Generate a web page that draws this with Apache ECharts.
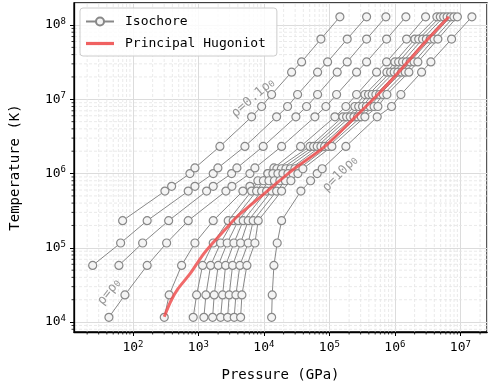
<!DOCTYPE html>
<html><head><meta charset="utf-8">
<script src="https://cdn.jsdelivr.net/npm/echarts@6/dist/echarts.min.js"></script>
<style>html,body{margin:0;padding:0;background:#fff}#c{width:489px;height:389px}</style>
</head><body><div id="c"></div>
<script>
// ---- data: pressure (GPa), temperature (K) ----
const iso_0p1 = [[69.6,2.32e5],[308,5.8e5],[390,6.73e5],[742,1.0e6],[885,1.19e6],[2129,2.32e6],[6491,5.8e6],[9224,8.0e6],[13110,1.16e7],[26480,2.32e7],[37640,3.19e7],[74180,6.47e7],[144600,1.29e8]];
const iso_0p25 = [[24.3,5.8e4],[64.9,1.16e5],[165,2.32e5],[699,5.8e5],[885,6.73e5],[1683,1.0e6],[1984,1.19e6],[5128,2.32e6],[15630,5.8e6],[23000,8.0e6],[32690,1.16e7],[66040,2.32e7],[93870,3.19e7],[187000,6.47e7],[369800,1.29e8]];
const iso_0p5 = [[61.1,5.8e4],[140.7,1.16e5],[351,2.32e5],[1334,5.8e5],[1683,6.73e5],[3213,1.0e6],[3871,1.19e6],[9757,2.32e6],[30800,5.8e6],[44860,8.0e6],[66040,1.16e7],[131600,2.32e7],[187000,3.19e7],[369800,6.47e7],[728900,1.29e8]];
const iso_1 = [[43.0,1.16e4],[75.5,2.32e4],[165,5.8e4],[327,1.16e5],[699,2.32e5],[2629,5.8e5],[3247,6.73e5],[6113,1.0e6],[7290,1.19e6],[18630,2.32e6],[60060,5.8e6],[88430,8.0e6],[128800,1.16e7],[260200,2.32e7],[369800,3.19e7],[747000,6.47e7],[1.472e6,1.29e8]];
const iso_2 = [[301,1.16e4],[358,2.32e4],[554,5.8e4],[885,1.16e5],[1683,2.32e5],[4779,5.8e5],[6113,6.73e5],[11510,1.0e6],[14210,1.19e6],[36340,2.32e6],[121300,5.8e6],[178600,8.0e6],[260200,1.16e7],[525600,2.32e7],[747000,3.19e7],[1.509e6,6.47e7],[2.943e6,1.29e8]];
const iso_c1 = [[833,1.16e4],[939,2.32e4],[1159,5.8e4],[1683,1.16e5],[2851,2.32e5],[6491,5.8e5],[8098,8.0e5],[11510,1.0e6],[15800,1.16e6],[50390,2.32e6],[160700,5.8e6],[245100,8.0e6],[348300,1.16e7],[755000,2.32e7],[1.000e6,3.19e7],[2.020e6,6.47e7],[4.377e6,1.29e8]];
const iso_c2 = [[1213,1.16e4],[1302,2.32e4],[1536,5.8e4],[2182,1.16e5],[3399,2.32e5],[7737,5.8e5],[9826,8.0e5],[13720,1.0e6],[18500,1.16e6],[57390,2.32e6],[183100,5.8e6],[280200,8.0e6],[396800,1.16e7],[859800,2.32e7],[1.143e6,3.19e7],[2.309e6,6.47e7],[4.934e6,1.29e8]];
const iso_c3 = [[1648,1.16e4],[1743,2.32e4],[2006,5.8e4],[2753,1.16e5],[4052,2.32e5],[9224,5.8e5],[11920,8.0e5],[16360,1.0e6],[21670,1.16e6],[65140,2.32e6],[207800,5.8e6],[321300,8.0e6],[450200,1.16e7],[975700,2.32e7],[1.311e6,3.19e7],[2.648e6,6.47e7],[5.559e6,1.29e8]];
const iso_c4 = [[2182,1.16e4],[2342,2.32e4],[2602,5.8e4],[3483,1.16e5],[4831,2.32e5],[11000,5.8e5],[14470,8.0e5],[19510,1.0e6],[25380,1.16e6],[74180,2.32e6],[236600,5.8e6],[367300,8.0e6],[512800,1.16e7],[1.111e6,2.32e7],[1.498e6,3.19e7],[3.026e6,6.47e7],[6.265e6,1.29e8]];
const iso_c5 = [[2792,1.16e4],[2953,2.32e4],[3328,5.8e4],[4410,1.16e5],[5759,2.32e5],[13110,5.8e5],[17550,8.0e5],[23250,1.0e6],[29730,1.16e6],[84460,2.32e6],[269500,5.8e6],[419800,8.0e6],[584000,1.16e7],[1.266e6,2.32e7],[1.712e6,3.19e7],[3.459e6,6.47e7],[7.063e6,1.29e8]];
const iso_c6 = [[3520,1.16e4],[3737,2.32e4],[4301,5.8e4],[5759,1.16e5],[6866,2.32e5],[15630,5.8e5],[21290,8.0e5],[27720,1.0e6],[34220,1.16e6],[95880,2.32e6],[305900,5.8e6],[481300,8.0e6],[662900,1.16e7],[1.437e6,2.32e7],[1.964e6,3.19e7],[3.967e6,6.47e7],[7.958e6,1.29e8]];
const iso_c7 = [[4410,1.16e4],[4615,2.32e4],[5503,5.8e4],[7290,1.16e5],[8185,2.32e5],[18630,5.8e5],[25830,8.0e5],[33050,1.0e6],[39390,1.16e6],[109200,2.32e6],[348300,5.8e6],[550300,8.0e6],[755000,1.16e7],[1.636e6,2.32e7],[2.245e6,3.19e7],[4.535e6,6.47e7],[8.999e6,1.29e8]];
const iso_10 = [[13120,1.16e4],[13400,2.32e4],[14220,5.8e4],[15960,1.16e5],[18630,2.32e5],[36730,5.8e5],[51640,8.0e5],[65140,1.0e6],[77640,1.16e6],[178500,2.32e6],[537000,5.8e6],[890600,8.0e6],[1.236e6,1.16e7],[2.557e6,2.32e7],[3.545e6,3.19e7],[7.34e6,6.47e7],[1.5e7,1.29e8]];
const hugoniot = [[301,1.18e4],[380,1.92e4],[486,2.79e4],[742,4.45e4],[1171,8.04e4],[1683,1.18e5],[2539,1.75e5],[3871,2.62e5],[6113,3.69e5],[9322,5.04e5],[14720,7.10e5],[22440,9.69e5],[30800,1.205e6],[85350,2.32e6],[253900,5.89e6],[550300,1.158e7],[1.151e6,2.34e7],[3.190e6,6.47e7],[6.673e6,1.295e8]];
const isochores = [iso_0p1, iso_0p25, iso_0p5, iso_1, iso_2, iso_c1, iso_c2, iso_c3, iso_c4, iso_c5, iso_c6, iso_c7, iso_10];
const labels = ['ρ=0.1ρ{s|0}', 'ρ=ρ{s|0}', 'ρ=10ρ{s|0}'];

// ---- chart ----
const FONT = 'DejaVu Sans Mono';
const xMin = 12.6, xMax = 2.55e7, yMin = 7.35e3, yMax = 1.98e8;
const minorX = [], minorY = [];
for (let e = 1; e <= 7; e++) for (let k = 2; k <= 9; k++) { const v = k * Math.pow(10, e); if (v > xMin && v < xMax) minorX.push([v, yMin]); }
for (let e = 3; e <= 8; e++) for (let k = 2; k <= 9; k++) { const v = k * Math.pow(10, e); if (v > yMin && v < yMax) minorY.push([xMin, v]); }

function isPow(v){ const l = Math.log10(v); return Math.abs(l - Math.round(l)) < 1e-6; }
function fmt(v){ return isPow(v) ? '10{s|' + Math.round(Math.log10(v)) + '}' : ''; }
const rich = { s: { fontSize: 9, fontFamily: FONT, verticalAlign: 'top', padding: [0,0,7,0], color:'#000' } };

const chart = echarts.init(document.getElementById('c'), null, { renderer: 'canvas' });
const series = [];
series.push({ type:'custom', silent:true, z:0, clip:false, data: minorX, encode:{x:0,y:1},
  renderItem:(p, api) => { const v = api.value(0); const b = api.coord([v, yMin]); const t = api.coord([v, yMax]);
    return { type:'group', children:[
      { type:'line', shape:{x1:b[0],y1:b[1],x2:t[0],y2:t[1]}, style:{stroke:'#e4e4e4', lineWidth:0.8, lineDash:[3,2]} },
      { type:'line', shape:{x1:b[0],y1:b[1],x2:b[0],y2:b[1]+2.5}, style:{stroke:'#000', lineWidth:0.8} } ] }; } });
series.push({ type:'custom', silent:true, z:0, clip:false, data: minorY, encode:{x:0,y:1},
  renderItem:(p, api) => { const v = api.value(1); const l = api.coord([xMin, v]); const r = api.coord([xMax, v]);
    return { type:'group', children:[
      { type:'line', shape:{x1:l[0],y1:l[1],x2:r[0],y2:r[1]}, style:{stroke:'#e4e4e4', lineWidth:0.8, lineDash:[3,2]} },
      { type:'line', shape:{x1:l[0],y1:l[1],x2:l[0]-2.5,y2:l[1]}, style:{stroke:'#000', lineWidth:0.8} } ] }; } });
isochores.forEach(d => series.push({ name:'Isochore', type:'line', data:d, symbol:'circle', symbolSize:8, showAllSymbol:true,
  lineStyle:{ color:'#888', width:1 }, itemStyle:{ color:'#f4f4f4', borderColor:'#888', borderWidth:1.2 }, z:3 }));
series.push({ name:'Principal Hugoniot', type:'line', data:hugoniot, symbol:'none', smooth:0.3,
  lineStyle:{ color:'#ee5050', width:3, opacity:0.85 }, itemStyle:{ color:'#ee5050' }, z:4 });

chart.setOption({
  animation:false,
  textStyle:{ fontFamily: FONT },
  grid:{ left:74, right:2, top:3, bottom:57, show:true, borderColor:'#000', borderWidth:1.3, backgroundColor:'transparent' },
  xAxis:{ type:'log', logBase:10, min:xMin, max:xMax, name:'Pressure (GPa)', nameLocation:'middle', nameGap:36,
    nameTextStyle:{ fontSize:14, fontFamily:FONT, color:'#000' },
    axisLine:{ lineStyle:{ color:'#000', width:1.3 } }, axisTick:{ length:4, lineStyle:{ color:'#000', width:1 } },
    axisLabel:{ formatter: fmt, rich: rich, fontSize:13, fontFamily:FONT, color:'#000', margin:8, showMinLabel:false, showMaxLabel:false },
    splitLine:{ show:true, lineStyle:{ color:'#dcdcdc', width:1 } } },
  yAxis:{ type:'log', logBase:10, min:yMin, max:yMax, name:'Temperature (K)', nameLocation:'middle', nameGap:52,
    nameTextStyle:{ fontSize:14, fontFamily:FONT, color:'#000' },
    axisLine:{ lineStyle:{ color:'#000', width:1.3 } }, axisTick:{ length:4, lineStyle:{ color:'#000', width:1 } },
    axisLabel:{ formatter: fmt, rich: rich, fontSize:13, fontFamily:FONT, color:'#000', margin:8, showMinLabel:false, showMaxLabel:false },
    splitLine:{ show:true, lineStyle:{ color:'#dcdcdc', width:1 } } },
  legend:{ data:[{ name:'Isochore' }, { name:'Principal Hugoniot', icon:'path://M0,0H28V3.2H0Z', itemStyle:{ color:'#ee5050', opacity:0.9 } }],
    orient:'vertical', left:80, top:8, padding:[7,11,6,5], itemGap:9, symbolKeepAspect:true,
    itemWidth:28, itemHeight:10, borderColor:'#cccccc', borderWidth:1, borderRadius:3, backgroundColor:'rgba(255,255,255,0.85)',
    textStyle:{ fontSize:13, fontFamily:FONT, color:'#000', padding:[0,0,0,6] } },
  graphic:[
    { type:'text', x:253, y:98, rotation:41*Math.PI/180, style:{ text:labels[0], rich:{ s:{ fontSize:9, verticalAlign:'bottom', fill:'#999', fontFamily:FONT } }, fill:'#999', fontSize:13, fontFamily:FONT, align:'center', verticalAlign:'middle' }, z:10 },
    { type:'text', x:109, y:292, rotation:52*Math.PI/180, style:{ text:labels[1], rich:{ s:{ fontSize:9, verticalAlign:'bottom', fill:'#999', fontFamily:FONT } }, fill:'#999', fontSize:13, fontFamily:FONT, align:'center', verticalAlign:'middle' }, z:10 },
    { type:'text', x:340, y:174, rotation:46*Math.PI/180, style:{ text:labels[2], rich:{ s:{ fontSize:9, verticalAlign:'bottom', fill:'#999', fontFamily:FONT } }, fill:'#999', fontSize:13, fontFamily:FONT, align:'center', verticalAlign:'middle' }, z:10 }
  ],
  series: series
});
</script></body></html>
